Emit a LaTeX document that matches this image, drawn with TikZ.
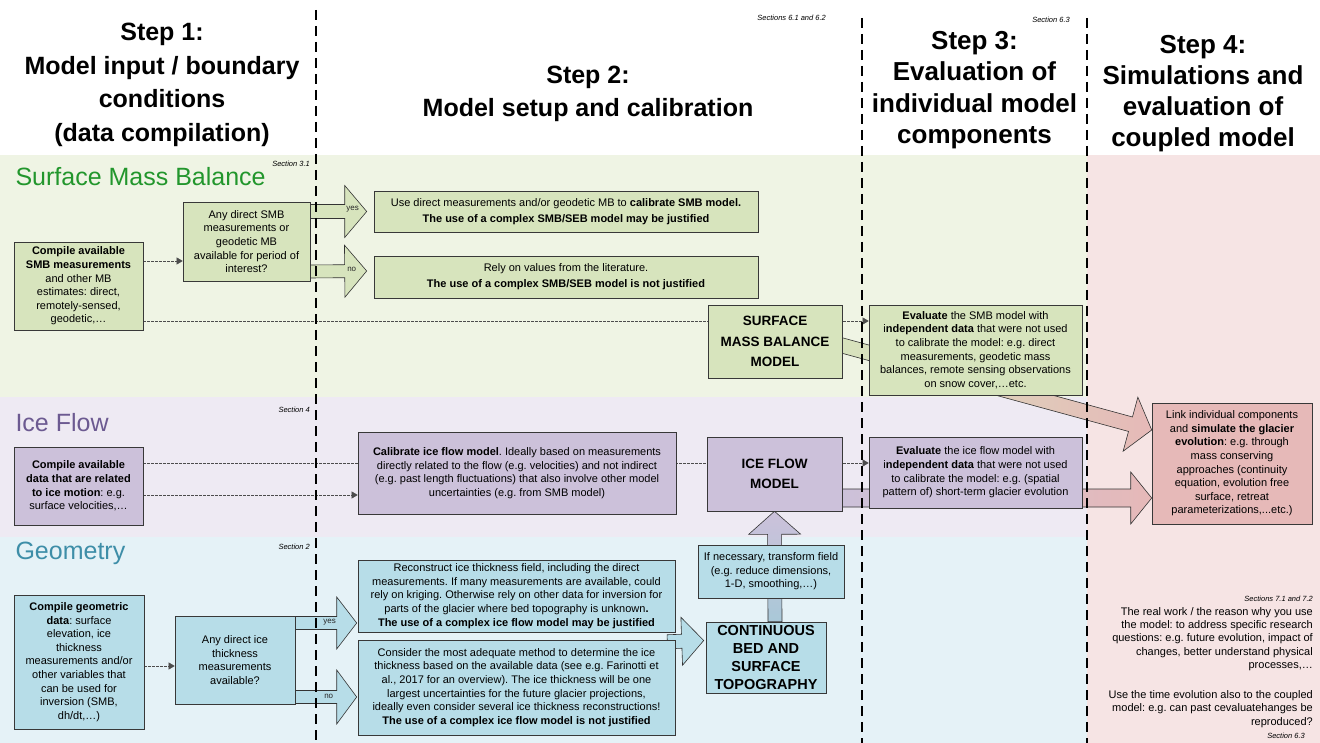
\documentclass[tikz,border=0pt]{standalone}
\usepackage{fontspec}
\setmainfont{Liberation Sans}
\usetikzlibrary{calc,arrows.meta}
\frenchspacing
\definecolor{smbband}{HTML}{EFF4E4}
\definecolor{smbbox}{HTML}{D7E4BD}
\definecolor{smbtitle}{HTML}{22962C}
\definecolor{iceband}{HTML}{EEEAF3}
\definecolor{icebox}{HTML}{CCC1DA}
\definecolor{icetitle}{HTML}{6C5A91}
\definecolor{geoband}{HTML}{E5F2F7}
\definecolor{geobox}{HTML}{B7DDE8}
\definecolor{geotitle}{HTML}{3E8EA8}
\definecolor{geoshaft}{HTML}{A9C8D8}
\definecolor{redcol}{HTML}{F6E4E4}
\definecolor{redbox}{HTML}{E6B9B8}
\newcommand{\blockarrow}[6]{%
  \coordinate (bah) at ($(#3)!#6!(#2)$);
  \path[#1] ($(#2)!#4!90:(#3)$) -- ($(bah)!#4!90:(#3)$) -- ($(bah)!#5!90:(#3)$) -- (#3)
    -- ($(bah)!#5!-90:(#3)$) -- ($(bah)!#4!-90:(#3)$) -- ($(#2)!#4!-90:(#3)$) -- cycle;}
\begin{document}
\begin{tikzpicture}[x=1pt,y=-1pt,
  bx/.style={draw=black!78, line width=0.6pt, align=center, inner sep=2pt,
     font=\fontsize{11}{13.6}\selectfont},
  smbnode/.style={bx, fill=smbbox},
  icenode/.style={bx, fill=icebox},
  geonode/.style={bx, fill=geobox},
  rednode/.style={bx, fill=redbox},
  modelnode/.style={font=\fontsize{13.5}{20.5}\selectfont\bfseries},
  heading/.style={align=center, font=\fontsize{25}{33.5}\selectfont\bfseries},
  rowtitle/.style={anchor=west, font=\fontsize{25}{30}\selectfont},
  sect/.style={anchor=east, inner sep=0pt, font=\fontsize{7.5}{9}\selectfont\itshape},
  plain/.style={anchor=east, align=right, inner sep=0pt, font=\fontsize{11}{13.4}\selectfont},
  lbl/.style={inner sep=0pt, font=\fontsize{8}{9}\selectfont, text=black!85},
  barrow/.style={draw=black!80, line width=0.6pt, line join=miter},
  dconn/.style={draw=black!70, line width=0.5pt, dash pattern=on 2.5pt off 1.5pt,
     -{Triangle[length=6pt,width=7pt]}},
  stepline/.style={draw=black, line width=2.2pt, dash pattern=on 10pt off 6pt}
]
\useasboundingbox (0,0) rectangle (1320,743);
% ---------- backgrounds
\fill[white] (0,0) rectangle (1320,743);
\fill[smbband] (0,155) rectangle (1087,397);
\fill[iceband] (0,397) rectangle (1087,537);
\fill[geoband] (0,537) rectangle (1087,743);
\fill[redcol] (1087,155) rectangle (1320,743);
% ---------- headings
\node[heading] (h1) at (162,85) {Step 1:\\Model input / boundary\\conditions\\(data compilation)};
\node[heading] (h2) at (588,94) {Step 2:\\Model setup and calibration};
\node[heading, font=\fontsize{26}{31.5}\selectfont\bfseries] (h3) at (974.5,90) {Step 3:\\Evaluation of\\individual model\\components};
\node[heading, font=\fontsize{26}{31}\selectfont\bfseries] (h4) at (1203,94) {Step 4:\\Simulations and\\evaluation of\\coupled model};
\node[sect] (s62) at (826,18) {Sections 6.1 and 6.2};
\node[sect] (s63a) at (1070,20) {Section 6.3};
% ---------- row titles
\node[rowtitle, text=smbtitle] (t1) at (12,177) {Surface Mass Balance};
\node[rowtitle, text=icetitle] (t2) at (12,423) {Ice Flow};
\node[rowtitle, text=geotitle] (t3) at (12,553) {Geometry};
\node[sect] (s31) at (310,164) {Section 3.1};
\node[sect] (s4) at (310,410) {Section 4};
\node[sect] (s2) at (310,547) {Section 2};
% ---------- node placement (text drawn later on top)
\path
  node[smbnode, minimum width=129pt, minimum height=88pt] (A1) at (78.5,286) {}
  node[smbnode, minimum width=127pt, minimum height=79pt] (A2) at (246.5,241.5) {}
  node[smbnode, minimum width=384pt, minimum height=41pt] (B1) at (566,211.5) {}
  node[smbnode, minimum width=384pt, minimum height=42pt] (B2) at (566,277) {}
  node[smbnode, minimum width=134pt, minimum height=73pt] (C1) at (775,341.5) {}
  node[smbnode, minimum width=213pt, minimum height=90pt] (D1) at (975.5,350) {}
  node[icenode, minimum width=129pt, minimum height=78pt] (E1) at (78.5,486) {}
  node[icenode, minimum width=318pt, minimum height=82pt] (E2) at (517,473) {}
  node[icenode, minimum width=135pt, minimum height=74pt] (E3) at (774.5,474) {}
  node[icenode, minimum width=213pt, minimum height=71pt] (E4) at (975.5,472.5) {}
  node[rednode, minimum width=160pt, minimum height=121pt] (F1) at (1232,463.5) {}
  node[geonode, minimum width=130pt, minimum height=134pt] (G1) at (79,662) {}
  node[geonode, minimum width=120pt, minimum height=88pt] (G2) at (235,660) {}
  node[geonode, minimum width=317pt, minimum height=72pt] (H1) at (516.5,596) {}
  node[geonode, minimum width=317pt, minimum height=95pt] (H2) at (516.5,687.5) {}
  node[geonode, minimum width=146pt, minimum height=53pt] (I1) at (771,571.5) {}
  node[geonode, minimum width=120pt, minimum height=71pt] (I2) at (766,657.5) {};
% ---------- block arrows
\coordinate (yesS) at ($(A2.east)+(0,-30)$);
\coordinate (yesT) at ($(B1.west)+(-7,0)$);
\coordinate (noS) at ($(A2.east)+(0,30)$);
\coordinate (noT) at ($(B2.west)+(-7,-6)$);
\blockarrow{barrow, fill=smbbox}{yesS}{yesT}{7pt}{26pt}{22pt}
\blockarrow{barrow, fill=smbbox}{noS}{noT}{6.5pt}{26pt}{22pt}
\node[lbl] (ly) at ($(yesT)+(-14,-2)$) {yes};
\node[lbl] (ln) at ($(noT)+(-15,-2)$) {no};
\coordinate (gyS) at ($(G2.east)+(0,-37)$);
\coordinate (gyT) at ($(H1.west)+(-1,27)$);
\coordinate (gnS) at ($(G2.east)+(0,37)$);
\coordinate (gnT) at ($(H2.west)+(-1,9.5)$);
\blockarrow{barrow, fill=geobox}{gyS}{gyT}{6.5pt}{26pt}{20pt}
\blockarrow{barrow, fill=geobox}{gnS}{gnT}{6.5pt}{27pt}{20pt}
\node[lbl] (gly) at ($(gyT)+(-27,-1)$) {yes};
\node[lbl] (gln) at ($(gnT)+(-28,-1)$) {no};
\coordinate (cS) at ($(H1.east)!0.5!(H2.east)+(-8,0)$);
\coordinate (cT) at ($(I2.west)+(-2,-17)$);
\blockarrow{barrow, fill=geobox}{cS}{cT}{7pt}{24pt}{22pt}
\coordinate (vS) at ($(I2.north)+(9,0)$);
\coordinate (vT) at (E3.south);
\blockarrow{barrow, top color=icebox, bottom color=geoshaft}{vS}{vT}{7pt}{26pt}{23pt}
\coordinate (smS) at ($(C1.east)+(-2,3.5)$);
\coordinate (smT) at ($(F1.west)+(0,-33.5)$);
\blockarrow{barrow, left color=smbbox, right color=redbox}{smS}{smT}{7.5pt}{28pt}{22pt}
\coordinate (ifS) at ($(E3.east)+(-2,24)$);
\coordinate (ifT) at ($(F1.west)+(0,34.5)$);
\blockarrow{barrow, left color=icebox, right color=redbox}{ifS}{ifT}{9pt}{26pt}{21pt}
% ---------- dashed connectors
\draw[dconn] ($(A1.east)+(0,-25)$) -- ($(A2.west)+(0,19.5)$);
\draw[dconn] ($(A1.east)+(0,35)$) -- ($(D1.west)+(0,-29)$);
\draw[dconn] ($(E1.east)+(0,-23)$) -- ($(E4.west)+(0,-9.5)$);
\draw[dconn] ($(E1.east)+(0,9)$) -- ($(E2.west)+(0,22)$);
\draw[dconn] ($(G1.east)+(0,4)$) -- ($(G2.west)+(0,6)$);
% ---------- step separators
\coordinate (l1a) at (316,10); \coordinate (l1b) at (316,743);
\coordinate (l2a) at (862,18); \coordinate (l2b) at (862,743);
\coordinate (l3a) at (1087,18); \coordinate (l3b) at (1087,743);
\draw[stepline] (l1a) -- (l1b);
\draw[stepline] (l2a) -- (l2b);
\draw[stepline] (l3a) -- (l3b);
% ---------- boxes with text
\node[smbnode, minimum width=129pt, minimum height=88pt] at (A1) {\textbf{Compile available}\\\textbf{SMB measurements}\\and other MB\\estimates: direct,\\remotely-sensed,\\geodetic,…};
\node[smbnode, minimum width=127pt, minimum height=79pt] at (A2) {Any direct SMB\\measurements or\\geodetic MB\\available for period of\\interest?};
\node[smbnode, minimum width=384pt, minimum height=41pt, font=\fontsize{11}{16}\selectfont] at (B1) {Use direct measurements and/or geodetic MB to \textbf{calibrate SMB model.}\\\textbf{The use of a complex SMB/SEB model may be justified}};
\node[smbnode, minimum width=384pt, minimum height=42pt, font=\fontsize{11}{16}\selectfont] at (B2) {Rely on values from the literature.\\\textbf{The use of a complex SMB/SEB model is not justified}};
\node[smbnode, modelnode, minimum width=134pt, minimum height=73pt] at (C1) {SURFACE\\MASS BALANCE\\MODEL};
\node[smbnode, minimum width=213pt, minimum height=90pt] at (D1) {\textbf{Evaluate} the SMB model with\\i\textbf{ndependent data} that were not used\\to calibrate the model: e.g. direct\\measurements, geodetic mass\\balances, remote sensing observations\\on snow cover,…etc.};
\node[icenode, minimum width=129pt, minimum height=78pt] at (E1) {\textbf{Compile available}\\\textbf{data that are related}\\\textbf{to ice motion}: e.g.\\surface velocities,…};
\node[icenode, minimum width=318pt, minimum height=82pt] at (E2) {\textbf{Calibrate ice flow model}. Ideally based on measurements\\directly related to the flow (e.g. velocities) and not indirect\\(e.g. past length fluctuations) that also involve other model\\uncertainties (e.g. from SMB model)};
\node[icenode, modelnode, minimum width=135pt, minimum height=74pt] at (E3) {ICE FLOW\\MODEL};
\node[icenode, minimum width=213pt, minimum height=71pt] at (E4) {\textbf{Evaluate} the ice flow model with\\i\textbf{ndependent data} that were not used\\to calibrate the model: e.g. (spatial\\pattern of) short-term glacier evolution};
\node[rednode, minimum width=160pt, minimum height=121pt] at (F1) {Link individual components\\and \textbf{simulate the glacier}\\\textbf{evolution}: e.g. through\\mass conserving\\approaches (continuity\\equation, evolution free\\surface, retreat\\parameterizations,...etc.)};
\node[geonode, minimum width=130pt, minimum height=134pt] at (G1) {\textbf{Compile geometric}\\\textbf{data}: surface\\elevation, ice\\thickness\\measurements and/or\\other variables that\\can be used for\\inversion (SMB,\\dh/dt,…)};
\node[geonode, minimum width=120pt, minimum height=88pt] at (G2) {Any direct ice\\thickness\\measurements\\available?};
\node[geonode, minimum width=317pt, minimum height=72pt] at (H1) {Reconstruct ice thickness field, including the direct\\measurements. If many measurements are available, could\\rely on kriging. Otherwise rely on other data for inversion for\\parts of the glacier where bed topography is unknown\textbf{.}\\\textbf{The use of a complex ice flow model may be justified}};
\node[geonode, minimum width=317pt, minimum height=95pt] at (H2) {Consider the most adequate method to determine the ice\\thickness based on the available data (see e.g. Farinotti et\\al., 2017 for an overview). The ice thickness will be one\\largest uncertainties for the future glacier projections,\\ideally even consider several ice thickness reconstructions!\\\textbf{The use of a complex ice flow model is not justified}};
\node[geonode, minimum width=146pt, minimum height=53pt] at (I1) {If necessary, transform field\\(e.g. reduce dimensions,\\1-D, smoothing,…)};
\node[geonode, minimum width=120pt, minimum height=71pt, font=\fontsize{14.5}{18}\selectfont\bfseries] at (I2) {CONTINUOUS\\BED AND\\SURFACE\\TOPOGRAPHY};
% ---------- step 4 notes
\node[sect] (s71) at (1313,599) {Sections 7.1 and 7.2};
\node[plain] (n1) at (1313,639) {The real work / the reason why you use\\the model: to address specific research\\questions: e.g. future evolution, impact of\\changes, better understand physical\\processes,…};
\node[plain] (n2) at (1313,709) {Use the time evolution also to the coupled\\model: e.g. can past cevaluatehanges be\\reproduced?};
\node[sect] (s63b) at (1305,736) {Section 6.3};
\end{tikzpicture}
\end{document}
